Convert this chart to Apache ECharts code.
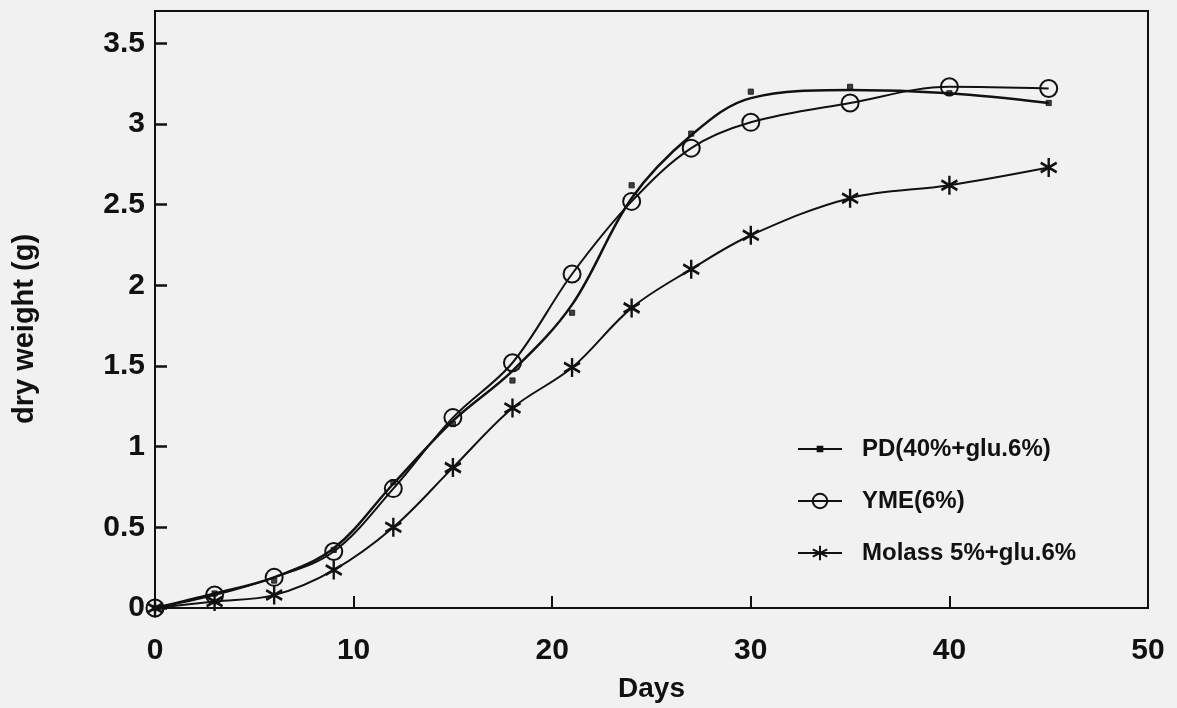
<!DOCTYPE html>
<html>
<head>
<meta charset="utf-8">
<title>Dry weight over days</title>
<script src="https://cdn.jsdelivr.net/npm/echarts@6/dist/echarts.min.js"></script>
<style>
  html, body { margin: 0; padding: 0; background: #f1f1f1; }
  #chart { width: 1177px; height: 708px; }
</style>
</head>
<body>
<div id="chart"></div>
<script>
// Sampling days
const days = [0, 3, 6, 9, 12, 15, 18, 21, 24, 27, 30, 35, 40, 45];

// Measured dry weight (g) per medium
const pdPoints     = [0, 0.09, 0.17, 0.36, 0.78, 1.14, 1.41, 1.83, 2.62, 2.94, 3.20, 3.23, 3.19, 3.13];
const pdCurve      = [0, 0.09, 0.19, 0.37, 0.77, 1.16, 1.47, 1.88, 2.54, 2.93, 3.16, 3.21, 3.19, 3.13];
const ymePoints    = [0, 0.08, 0.19, 0.35, 0.74, 1.18, 1.52, 2.07, 2.52, 2.85, 3.01, 3.13, 3.23, 3.22];
const molassPoints = [0, 0.04, 0.08, 0.235, 0.50, 0.87, 1.24, 1.49, 1.86, 2.10, 2.31, 2.54, 2.62, 2.73];

// Series names
const names = ['PD(40%+glu.6%)', 'YME(6%)', 'Molass 5%+glu.6%'];

// Axis titles
const xTitle = 'Days';
const yTitle = 'dry weight (g)';

const ink = '#111';
const fontFamily = '"Liberation Sans", Arial, sans-serif';

// small filled square inside a wider invisible box
const dotSymbol = 'path://M-8,-8 M8,8 M-2.6,-2.6 L2.6,-2.6 L2.6,2.6 L-2.6,2.6 Z';
// six-armed asterisk
const starSymbol = 'path://M0,-10 L0,10 M-8.66,-5 L8.66,5 M-8.66,5 L8.66,-5';

const pair = (xs, ys) => xs.map((x, i) => [x, ys[i]]);

const chart = echarts.init(document.getElementById('chart'), null, { renderer: 'canvas' });

chart.setOption({
  backgroundColor: '#f1f1f1',
  animation: false,
  grid: {
    left: 155, right: 29, top: 11, bottom: 99,
    show: true,
    borderColor: ink,
    borderWidth: 2,
    backgroundColor: 'transparent'
  },
  legend: {
    orient: 'vertical',
    left: 792,
    top: 432,
    itemWidth: 44,
    itemHeight: 18,
    itemGap: 28,
    selectedMode: false,
    data: names,
    textStyle: {
      color: ink,
      fontFamily: fontFamily,
      fontWeight: 'bold',
      fontSize: 24,
      lineHeight: 24,
      padding: [0, 0, 0, 15]
    }
  },
  xAxis: {
    type: 'value',
    min: 0, max: 50, interval: 10,
    name: xTitle,
    nameLocation: 'middle',
    nameGap: 67,
    nameTextStyle: { color: ink, fontFamily: fontFamily, fontWeight: 'bold', fontSize: 28 },
    axisLine: { show: true, lineStyle: { color: ink, width: 2 } },
    axisTick: { show: true, inside: true, length: 12, lineStyle: { color: ink, width: 2 } },
    axisLabel: { color: ink, fontFamily: fontFamily, fontWeight: 'bold', fontSize: 30, margin: 28 },
    splitLine: { show: false }
  },
  yAxis: {
    type: 'value',
    min: 0, max: 3.7, interval: 0.5,
    axisLine: { show: true, lineStyle: { color: ink, width: 2 } },
    axisTick: { show: true, inside: true, length: 12, lineStyle: { color: ink, width: 2.5 } },
    axisLabel: { color: ink, fontFamily: fontFamily, fontWeight: 'bold', fontSize: 30, margin: 10, showMaxLabel: false },
    splitLine: { show: false }
  },
  graphic: [{
    type: 'text',
    x: 25, y: 329,
    rotation: Math.PI / 2,
    style: {
      text: yTitle,
      fill: ink,
      font: 'bold 29px ' + fontFamily,
      align: 'center',
      verticalAlign: 'middle'
    }
  }],
  series: [
    {
      name: names[0],
      type: 'line',
      smooth: 0.35,
      data: pair(days, pdCurve),
      showSymbol: false,
      symbol: dotSymbol,
      symbolSize: 16,
      lineStyle: { color: ink, width: 2.5 },
      itemStyle: { color: ink, borderColor: ink, borderWidth: 1 },
      z: 3
    },
    {
      name: names[0],
      type: 'scatter',
      data: pair(days, pdPoints),
      symbol: dotSymbol,
      symbolSize: 16,
      itemStyle: { color: ink, borderColor: ink, borderWidth: 1 },
      z: 4
    },
    {
      name: names[1],
      type: 'line',
      smooth: 0.35,
      data: pair(days, ymePoints),
      symbol: 'circle',
      symbolSize: 17,
      showAllSymbol: true,
      lineStyle: { color: ink, width: 2 },
      itemStyle: { color: 'rgba(0,0,0,0)', borderColor: ink, borderWidth: 2 },
      z: 4
    },
    {
      name: names[2],
      type: 'line',
      smooth: 0.35,
      data: pair(days, molassPoints),
      symbol: starSymbol,
      symbolSize: [16, 19],
      showAllSymbol: true,
      lineStyle: { color: ink, width: 2 },
      itemStyle: { color: ink, borderColor: ink, borderWidth: 2.6 },
      z: 4
    }
  ]
});
</script>
</body>
</html>
